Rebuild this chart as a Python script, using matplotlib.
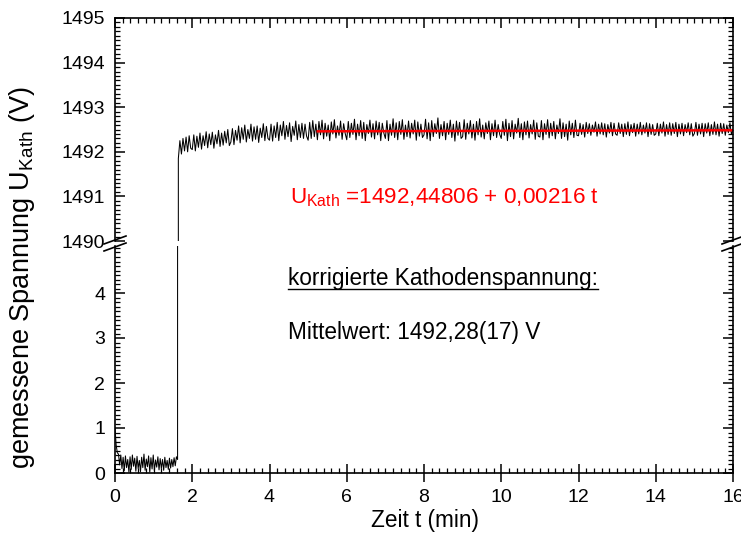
import matplotlib
matplotlib.use("Agg")
import matplotlib.pyplot as plt
from matplotlib.lines import Line2D
import numpy as np

plt.rcParams['font.family'] = ['Liberation Sans', 'DejaVu Sans']
plt.rcParams['mathtext.fontset'] = 'custom'
plt.rcParams['mathtext.rm'] = 'Liberation Sans'
plt.rcParams['mathtext.it'] = 'Liberation Sans:italic'

# low voltage phase, t = 0 ... 1.62 min (V)
u_low = [1.00, 0.62, 0.45, 0.42, 0.18, 0.40, 0.10, 0.35, 0.05, 0.38, 0.12, 0.30,
         0.02, 0.36, 0.08, 0.40, 0.15, 0.33, 0.04, 0.37, 0.10, 0.28, 0.03, 0.35,
         0.12, 0.42, 0.06, 0.31, 0.14, 0.38, 0.02, 0.34, 0.09, 0.40, 0.05, 0.29,
         0.13, 0.36, 0.07, 0.32, 0.10, 0.30, 0.06, 0.35, 0.12, 0.28, 0.08, 0.33,
         0.11, 0.30, 0.14, 0.34, 0.16, 0.36, 0.30]

# high voltage phase, t = 1.64 ... 16 min, in 1/100 V above 1492 V
u_high_cV = [
    -15, 25, -5, 30, 2, 33, 0, 36, 8,
    5, 38, 2, 35, 10, 42, 6, 36, 14, 45, 9, 40, 16, 44, 8, 38, 18, 48, 12, 42, 15, 46, 20, 50, 14,
    22, 52, 16, 48, 26, 58, 20, 54, 28, 60, 22, 50, 30, 62, 24, 56, 28, 58, 21, 53, 32, 63, 25, 57, 30,
    26, 62, 24, 58, 32, 66, 25, 60, 36, 68, 28, 59, 34, 65, 23, 57, 37, 69, 27, 61, 32, 64, 30, 62, 35,
    26, 66, 30, 70, 34, 62, 27, 68, 38, 71, 29, 64, 35, 60, 25, 67, 40, 72, 31, 58, 37, 69, 28, 63, 41,
    27, 68, 32, 64, 39, 73, 27, 62, 36, 70, 30, 66, 25, 61, 41, 71, 33, 63, 29, 69, 38, 66, 25, 64, 42,
    30, 70, 25, 62, 37, 74, 32, 65, 27, 68, 39, 72, 28, 60, 34, 69, 31, 64, 40, 71, 26, 67, 35, 62, 32,
    38, 73, 29, 65, 25, 70, 34, 63, 41, 76, 30, 61, 36, 68, 27, 64, 39, 71, 32, 62, 24, 69, 37, 66, 30,
    34, 72, 28, 64, 40, 70, 31, 62, 26, 68, 38, 74, 33, 60, 29, 65, 41, 69, 27, 63, 36, 71, 32, 61, 39,
    30, 68, 37, 73, 25, 64, 34, 70, 29, 62, 42, 75, 32, 63, 27, 67, 38, 69, 31, 61, 40, 71, 28, 65, 35,
    33, 70, 27, 63, 39, 72, 31, 64, 36, 68, 29, 60, 41, 74, 30, 65, 34, 62, 26, 69, 38, 64, 32, 71, 37,
    36, 64, 39, 61, 33, 66, 41, 63, 37, 60, 44, 67, 35, 62, 40, 65, 38, 63, 33, 61, 42, 66, 36, 64, 40,
    37, 65, 41, 62, 34, 63, 39, 67, 36, 61, 43, 64, 35, 62, 40, 66, 38, 60, 42, 65, 34, 63, 39, 61, 37,
    40, 64, 36, 62, 42, 67, 35, 61, 39, 65, 37, 63, 41, 66, 34, 62, 40, 64, 36, 61, 43, 65, 38, 63, 35,
    41, 66, 37, 62, 40, 64, 34, 63, 42, 65, 36, 61, 39, 67, 38, 62, 35, 64, 41, 63, 37, 60, 43, 65, 39, 50,
]

t_low = np.linspace(0.0, 1.62, len(u_low))
t_high = np.linspace(1.64, 16.0, len(u_high_cV))
t = np.concatenate([t_low, t_high])
u = np.concatenate([u_low, 1492 + np.array(u_high_cV) / 100.0])

# linear fit shown in red
fit_a, fit_b = 1492.44806, 0.00216
fit_t = np.array([5.25, 16.0])
fit_u = fit_a + fit_b * fit_t

W, H = 741, 545
fig = plt.figure(figsize=(W / 100, H / 100), dpi=100)

def fx(px):
    return px / W

def fy(py):
    return 1 - py / H

L, R = 115, 733
ax_top = fig.add_axes([fx(L), fy(241), fx(R) - fx(L), fy(18) - fy(241)])
ax_bot = fig.add_axes([fx(L), fy(473), fx(R) - fx(L), fy(246) - fy(473)])

for ax in (ax_top, ax_bot):
    ax.plot(t, u, color='black', lw=0.75)
    ax.set_xlim(0, 16)
    ax.set_xticks(np.arange(0, 17, 2))
    ax.set_xticks(np.arange(0, 16.01, 0.2), minor=True)
    for s in ax.spines.values():
        s.set_linewidth(1.2)
    ax.tick_params(axis='y', which='both', left=True, right=True, direction='in',
                   labelsize=14, pad=7)
    ax.tick_params(axis='y', which='major', length=7, width=1.1)
    ax.tick_params(axis='y', which='minor', length=3.5, width=0.9)

ax_top.plot(fit_t, fit_u, color='red', lw=1.8)

ax_top.set_ylim(1490, 1495)
ax_top.set_yticks(np.arange(1490, 1496, 1))
ax_top.set_yticks(np.arange(1490, 1495.01, 0.1), minor=True)
ax_top.spines['bottom'].set_visible(False)
ax_top.tick_params(axis='x', which='both', bottom=False, top=True, labelbottom=False,
                   direction='in')
ax_top.tick_params(axis='x', which='major', length=7, width=1.1)
ax_top.tick_params(axis='x', which='minor', length=3.5, width=0.9)

ax_bot.set_ylim(0, 227 / 45)
ax_bot.set_yticks(np.arange(0, 5, 1))
ax_bot.set_yticks(np.arange(0, 5.01, 0.1), minor=True)
ax_bot.spines['top'].set_visible(False)
ax_bot.tick_params(axis='x', which='both', top=False, bottom=True, labelsize=14)
ax_bot.tick_params(axis='x', which='major', direction='inout', length=13, width=1.1, pad=5)
ax_bot.tick_params(axis='x', which='minor', direction='in', length=3.5, width=0.9)

# break marks on both spines
for xp in (L, R):
    for yp in (240, 247):
        fig.add_artist(Line2D([fx(xp - 11), fx(xp + 11)], [fy(yp + 4), fy(yp - 4)],
                              color='black', lw=1.2, transform=fig.transFigure))

ax_top.text(4.53, 1490.98, r'U$_{\mathrm{Kath}}$ =1492,44806 + 0,00216 t',
            color='red', fontsize=16.2, va='center', ha='left')
txt = ax_bot.text(4.48, 4.33, 'korrigierte Kathodenspannung:', fontsize=16.3,
                  va='center', ha='left')
ax_bot.text(4.48, 3.12, 'Mittelwert: 1492,28(17) V', fontsize=16.3,
            va='center', ha='left')

fig.text(fx(425), fy(521), 'Zeit t (min)', fontsize=16.3, ha='center', va='center')
fig.text(fx(22), fy(278), r'gemessene Spannung U$_{\mathrm{Kath}}$ (V)', fontsize=19.5,
         ha='center', va='center', rotation=90)

# underline
fig.canvas.draw()
bb = txt.get_window_extent(fig.canvas.get_renderer())
fig.add_artist(Line2D([bb.x0 / W, bb.x1 / W], [(bb.y0 + 1) / H, (bb.y0 + 1) / H],
                      color='black', lw=1.0, transform=fig.transFigure))

fig.savefig('out.png', dpi=100)
